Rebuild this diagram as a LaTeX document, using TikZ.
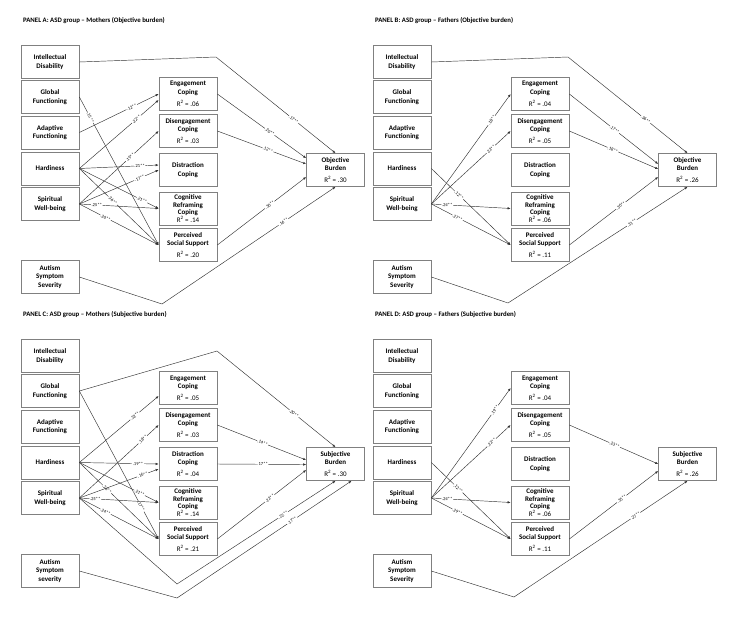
\documentclass[tikz,border=0pt]{standalone}
\usepackage{fontspec}
\setmainfont{Carlito}
\usetikzlibrary{arrows.meta, calc}

\newcommand{\rsq}[1]{{\mdseries R\textsuperscript{2} = #1}}
% one panel of boxes: title, R2 values, outcome, last word of autism box
\newcommand{\panelboxes}[9]{%
  \node[paneltitle] (title) at (23,21) {#1};
  \node[leftbox] (id) at (50,62) {Intellectual\\Disability};
  \node[leftbox] (gf) at (50,97) {Global\\Functioning};
  \node[leftbox] (af) at (50,132.5) {Adaptive\\Functioning};
  \node[leftbox] (hd) at (50,168.5) {Hardiness};
  \node[leftbox] (sw) at (50,204) {Spiritual\\Well-being};
  \node[leftbox] (as) at (50,277) {Autism\\Symptom\\#9};
  \node[midbox] (ec) at (188,94) {Engagement\\Coping\\[3.5pt]\rsq{#2}};
  \node[midbox] (dc) at (188,131) {Disengagement\\Coping\\[3.5pt]\rsq{#3}};
  \node[midbox] (dist) at (188,170) {Distraction\\Coping#4};
  \node[midbox, font=\bfseries\fontsize{7}{7.6}\selectfont] (cr) at (188,208.5) {Cognitive\\Reframing\\Coping\\\rsq{#5}};
  \node[midbox] (ps) at (188,245) {Perceived\\Social Support\\[3.5pt]\rsq{#6}};
  \node[midbox] (ob) at (335.5,170) {#7\\Burden\\[3.5pt]\rsq{#8}};
}

\begin{document}
\begin{tikzpicture}[x=1pt, y=-1pt,
    cell/.style={draw=black!50, line width=0.7pt, align=center, inner sep=1pt,
        font=\bfseries\fontsize{7}{8.5}\selectfont},
    leftbox/.style={cell, minimum width=58pt, minimum height=33pt},
    midbox/.style={cell, minimum width=58pt, minimum height=33pt},
    effect/.style={-{Latex[length=3pt,width=2.4pt]}, draw=black!80, line width=0.45pt},
    coef/.style={font=\fontsize{4.6}{5}\selectfont, sloped, fill=white, inner sep=0.6pt},
    paneltitle/.style={anchor=west, inner sep=0pt, font=\bfseries\fontsize{6.8}{8}\selectfont}
]
\useasboundingbox (0,0) rectangle (751,619);

% PANEL A
\begin{scope}[name prefix=a-]
\panelboxes{PANEL A: ASD group -- Mothers (Objective burden)}{.06}{.03}{}{.14}{.20}{Objective}{.30}{Severity}
\coordinate (k) at (216,57);
\coordinate (v) at (162,304);

\draw[effect] (gf.east) -- node[coef, pos=.14] {.15**} (ps.west);
\draw[effect] (af.east) -- node[coef, pos=.66] {.12**} (ec.west);
\draw[effect] (hd.east) -- node[coef, pos=.72] {.22**} ($(ec.west)+(0,6)$);
\draw[effect] (hd.east) -- node[coef, pos=.76] {.21**} ($(dist.west)+(0,-5)$);
\draw[effect] (hd.east) -- node[coef, pos=.79] {.21**} (cr.west);
\draw[effect] (hd.east) -- node[coef, pos=.42] {.36**} (ps.west);
\draw[effect] (sw.east) -- node[coef, pos=.64] {.19**} (dc.west);
\draw[effect] (sw.east) -- node[coef, pos=.76] {.17**} (dist.west);
\draw[effect] (sw.east) -- node[coef, pos=.22] {.25**} (cr.west);
\draw[effect] (sw.east) -- node[coef, pos=.33] {.26**} (ps.west);
\draw[effect] (id.east) -- (k) -- node[coef, pos=.65] {.17**} (ob.north);
\draw[effect] (ec.east) -- node[coef, pos=.59] {.20**} ($(ob.north west)+(0,5)$);
\draw[effect] (dc.east) -- node[coef, pos=.57] {.12**} ($(ob.west)+(0,-6)$);
\draw[effect] (ps.east) -- node[coef, pos=.59] {.30**} ($(ob.west)+(0,7)$);
\draw[effect] (as.east) -- (v) -- node[coef, pos=.70] {.16**} (ob.south);
\end{scope}

% PANEL B
\begin{scope}[shift={(352,0)}, name prefix=b-]
\panelboxes{PANEL B: ASD group -- Fathers (Objective burden)}{.04}{.05}{}{.06}{.11}{Objective}{.26}{Severity}
\coordinate (k) at (216,57);
\coordinate (v) at (156,303);

\draw[effect] (sw.east) -- node[coef, pos=.76] {.18**} (ec.west);
\draw[effect] (sw.east) -- node[coef, pos=.75] {.22**} (dc.west);
\draw[effect] (sw.east) -- node[coef, pos=.20] {.24**} (cr.west);
\draw[effect] (sw.east) -- node[coef, pos=.33] {.27**} (ps.west);
\draw[effect] (hd.east) -- node[coef, pos=.35] {.12**} (ps.west);
\draw[effect] (id.east) -- (k) -- node[coef, pos=.65] {.36**} (ob.north);
\draw[effect] (ec.east) -- node[coef, pos=.51] {.17**} ($(ob.west)+(0,-6)$);
\draw[effect] (dc.east) -- node[coef, pos=.49] {.18**} ($(ob.west)+(0,-1)$);
\draw[effect] (ps.east) -- node[coef, pos=.58] {.30**} ($(ob.west)+(0,7)$);
\draw[effect] (as.east) -- (v) -- node[coef, pos=.69] {.31**} (ob.south);
\end{scope}

% PANEL C
\begin{scope}[shift={(0,294)}, name prefix=c-]
\panelboxes{PANEL C: ASD group -- Mothers (Subjective burden)}{.05}{.03}{\\[3.5pt]\rsq{.04}}{.14}{.21}{Subjective}{.30}{severity}
\coordinate (k) at (217,57);
\coordinate (v1) at (177,290);
\coordinate (v2) at (177,304);

\draw[effect] (gf.east) -- node[coef, pos=.78] {.17**} (ps.west);
\draw[effect] (hd.east) -- node[coef, pos=.70] {.22**} ($(ec.west)+(0,8)$);
\draw[effect] (hd.east) -- node[coef, pos=.74] {.19**} (dist.west);
\draw[effect] (hd.east) -- node[coef, pos=.76] {.21**} (cr.west);
\draw[effect] (hd.east) -- node[coef, pos=.35] {.26**} (ps.west);
\draw[effect] (sw.east) -- node[coef, pos=.80] {.18**} (dc.west);
\draw[effect] (sw.east) -- node[coef, pos=.80] {.16**} ($(dist.west)+(0,5)$);
\draw[effect] (sw.east) -- node[coef, pos=.20] {.25**} (cr.west);
\draw[effect] (sw.east) -- node[coef, pos=.33] {.24**} (ps.west);
\draw[effect] (gf.east) -- (k) -- node[coef, pos=.65] {.20**} (ob.north);
\draw[effect] (dc.east) -- node[coef, pos=.51] {.14**} ($(ob.west)+(0,-4)$);
\draw[effect] (dist.east) -- node[coef, pos=.51] {.17**} ($(ob.west)+(0,0.5)$);
\draw[effect] (ps.east) -- node[coef, pos=.59] {.22**} ($(ob.west)+(0,6)$);
\draw[effect] (sw.east) -- (v1) -- node[coef, pos=.67] {.22**} (ob.south);
\draw[effect] (as.east) -- (v2) -- node[coef, pos=.66] {.17**} ($(ob.south)+(16,0)$);
\end{scope}

% PANEL D
\begin{scope}[shift={(352,294)}, name prefix=d-]
\panelboxes{PANEL D: ASD group -- Fathers (Subjective burden)}{.04}{.05}{}{.06}{.11}{Subjective}{.26}{Severity}
\coordinate (v) at (162,303);

\draw[effect] (sw.east) -- node[coef, pos=.80] {.19**} (ec.west);
\draw[effect] (sw.east) -- node[coef, pos=.76] {.22**} (dc.west);
\draw[effect] (sw.east) -- node[coef, pos=.20] {.24**} (cr.west);
\draw[effect] (sw.east) -- node[coef, pos=.33] {.29**} (ps.west);
\draw[effect] (hd.east) -- node[coef, pos=.34] {.12**} (ps.west);
\draw[effect] (dc.east) -- node[coef, pos=.51] {.23**} (ob.west);
\draw[effect] (ps.east) -- node[coef, pos=.59] {.35**} ($(ob.west)+(0,7)$);
\draw[effect] (as.east) -- (v) -- node[coef, pos=.70] {.27**} (ob.south);
\end{scope}

\end{tikzpicture}
\end{document}
